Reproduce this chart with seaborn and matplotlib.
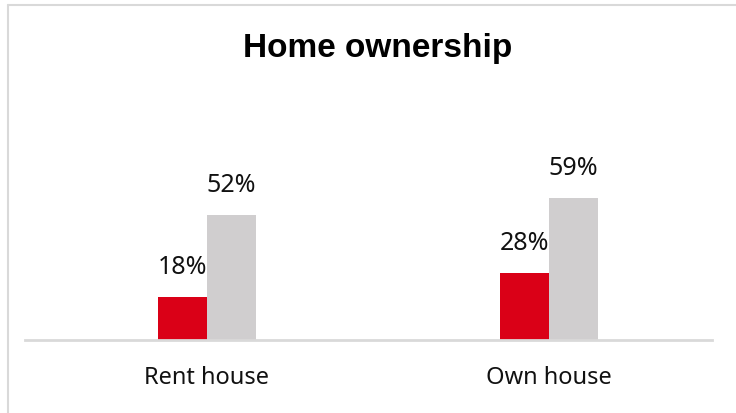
import matplotlib
matplotlib.use("Agg")
import matplotlib.pyplot as plt
from matplotlib.lines import Line2D
import seaborn as sns
import pandas as pd

categories = ["Rent house", "Own house"]
series_names = ["Group A", "Group B"]
values_a = [18, 28]
values_b = [52, 59]
title = "Home ownership"

df = pd.DataFrame({
    "category": categories * 2,
    "series": [series_names[0]] * 2 + [series_names[1]] * 2,
    "value": values_a + values_b,
})

sns.set_theme(style="white")
plt.rcParams["font.family"] = ["Noto Sans", "DejaVu Sans"]

W, H = 736, 413
fig = plt.figure(figsize=(W / 100, H / 100), dpi=100)
ax = fig.add_axes([25 / W, (H - 340) / H, (712 - 25) / W, 260 / H])

palette = {series_names[0]: "#DA0017", series_names[1]: "#D0CECF"}
sns.barplot(data=df, x="category", y="value", hue="series", order=categories,
            hue_order=series_names, palette=palette, width=0.287, gap=0,
            saturation=1, legend=False, ax=ax, edgecolor="none")

for container in ax.containers:
    ax.bar_label(container, labels=[f"{v:.0f}%" for v in container.datavalues],
                 padding=12, fontsize=18, color="#111111")

ax.set_xlim(-0.532, 1.477)
ax.set_ylim(0, 108)
ax.set_xlabel("")
ax.set_ylabel("")
ax.set_yticks([])
ax.tick_params(axis="x", length=0, pad=19, labelsize=17, labelcolor="#111111")
for side in ["top", "right", "left"]:
    ax.spines[side].set_visible(False)
ax.spines["bottom"].set_color("#D9D9D9")
ax.spines["bottom"].set_linewidth(2)

fig.text(378 / W, 1 - 48 / H, title, ha="center", va="center",
         fontsize=24, fontweight="bold", family=["Liberation Sans", "DejaVu Sans"],
         color="black")

# outer frame lines
fig.add_artist(Line2D([8 / W, 1], [1 - 5 / H, 1 - 5 / H], color="#D9D9D9", lw=1.5,
                      transform=fig.transFigure))
fig.add_artist(Line2D([8 / W, 8 / W], [0, 1 - 5 / H], color="#D9D9D9", lw=1.5,
                      transform=fig.transFigure))

fig.savefig("out.png", dpi=100)
